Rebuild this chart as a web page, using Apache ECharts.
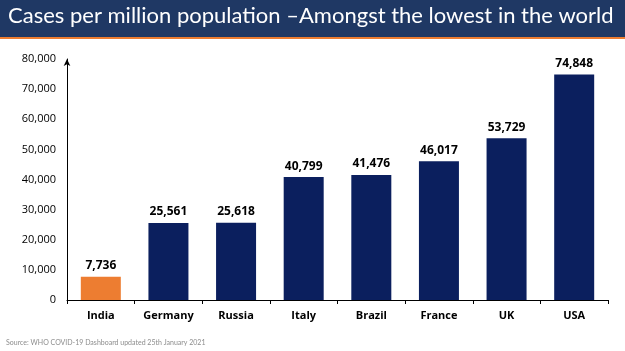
<!DOCTYPE html>
<html>
<head>
<meta charset="utf-8">
<script src="https://cdn.jsdelivr.net/npm/echarts@6/dist/echarts.min.js"></script>
<style>
html, body { margin: 0; padding: 0; background: #fff; }
#main { width: 625px; height: 351px; }
</style>
</head>
<body>
<div id="main"></div>
<script>
var countries = ['India', 'Germany', 'Russia', 'Italy', 'Brazil', 'France', 'UK', 'USA'];
var casesPerMillion = [7736, 25561, 25618, 40799, 41476, 46017, 53729, 74848];
var highlight = 'India';

var myChart = echarts.init(document.getElementById('main'));
option = {
    backgroundColor: '#ffffff',
    graphic: [
        {
            type: 'rect',
            shape: { x: 0, y: 0, width: 625, height: 37 },
            style: { fill: '#1f3864' }
        },
        {
            type: 'rect',
            shape: { x: 0, y: 37, width: 625, height: 2 },
            style: { fill: '#ed7d31' }
        },
        {
            type: 'text',
            left: 8,
            top: 5,
            style: {
                text: 'Cases per million population \u2013Amongst the lowest in the world',
                fill: '#ffffff',
                font: '22px Lato'
            }
        },
        {
            type: 'text',
            left: 6,
            top: 339,
            style: {
                text: 'Source: WHO COVID-19 Dashboard updated 25th January 2021',
                fill: '#8c8c8c',
                font: '7px Lato'
            }
        }
    ],
    grid: {
        left: 67,
        right: 17,
        top: 59,
        bottom: 51
    },
    xAxis: {
        type: 'category',
        data: countries,
        axisLine: { lineStyle: { color: '#000', width: 1 } },
        axisTick: { show: true, length: 4, lineStyle: { color: '#000' } },
        axisLabel: {
            color: '#000',
            fontWeight: 'bold',
            fontSize: 11,
            fontFamily: 'Open Sans',
            margin: 10
        }
    },
    yAxis: {
        type: 'value',
        min: 0,
        max: 80000,
        interval: 10000,
        splitLine: { show: false },
        axisLine: {
            show: true,
            symbol: ['none', 'arrow'],
            symbolSize: [5, 7],
            lineStyle: { color: '#000', width: 1 }
        },
        axisTick: { show: false },
        axisLabel: {
            color: '#000',
            fontSize: 11,
            fontFamily: 'Open Sans',
            margin: 11,
            formatter: function (v) { return v.toLocaleString('en-US'); }
        }
    },
    series: [
        {
            type: 'bar',
            barWidth: 40,
            data: casesPerMillion.map(function (v, i) {
                return {
                    value: v,
                    itemStyle: { color: countries[i] === highlight ? '#ed7d31' : '#0b1f5e' }
                };
            }),
            label: {
                show: true,
                position: 'top',
                color: '#000',
                fontWeight: 'bold',
                fontSize: 12,
                fontFamily: 'Open Sans',
                distance: 5,
                formatter: function (p) { return p.value.toLocaleString('en-US'); }
            }
        }
    ]
};

myChart.setOption(option);
</script>
</body>
</html>
